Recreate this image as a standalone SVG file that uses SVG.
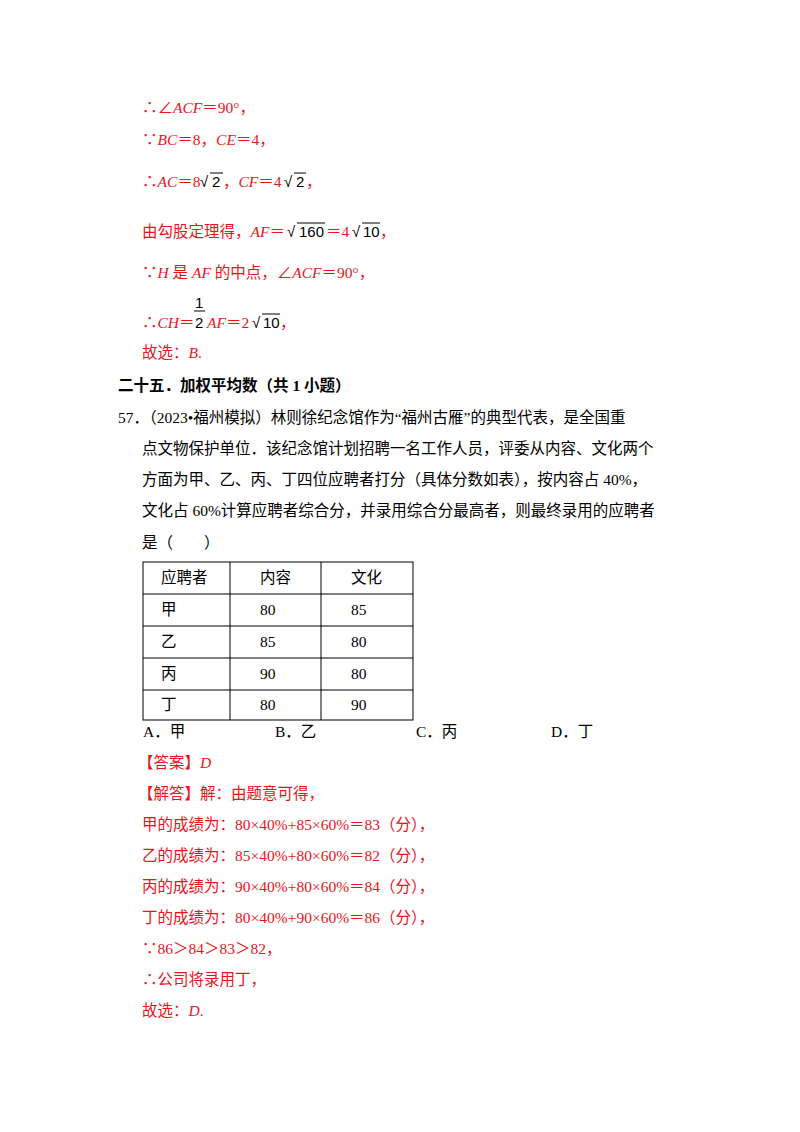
<svg xmlns="http://www.w3.org/2000/svg" width="800" height="1132" viewBox="0 0 800 1132">
<style>
text{font-family:"Liberation Serif","Noto Sans CJK SC",serif;font-size:15.5px;fill:#000}
.r{fill:#e8141b}
.i{font-style:italic}
.b{font-weight:bold}
.k{fill:#000}
.m{font-family:"Liberation Sans","DejaVu Sans",sans-serif;font-size:15px;fill:#000}
line,path{stroke:#000;fill:none}
</style>
<rect width="800" height="1132" fill="#fff"/>
<g id="sol1">
<text class="r" x="142" y="113">∴∠<tspan class="i">ACF</tspan>＝90°，</text>
<text class="r" x="142" y="145">∵<tspan class="i">BC</tspan>＝8，<tspan class="i">CE</tspan>＝4，</text>
<text class="r" x="142" y="187">∴<tspan class="i">AC</tspan>＝8</text>
<text class="m" x="200" y="187">√</text><line x1="210" y1="173" x2="223" y2="173"/><text class="m" x="212" y="187">2</text>
<text class="r" x="223" y="187">，<tspan class="i">CF</tspan>＝4</text>
<text class="m" x="284" y="187">√</text><line x1="294" y1="173" x2="306" y2="173"/><text class="m" x="296" y="187">2</text>
<text class="r" x="306" y="187">，</text>
<text class="r" x="142" y="237">由勾股定理得，<tspan class="i">AF</tspan>＝</text>
<text class="m" x="287" y="237">√</text><line x1="297" y1="223" x2="325" y2="223"/><text class="m" x="299" y="237">160</text>
<text class="r" x="326" y="237">＝4</text>
<text class="m" x="352" y="237">√</text><line x1="362" y1="223" x2="380" y2="223"/><text class="m" x="363" y="237">10</text>
<text class="r" x="380" y="237">，</text>
<text class="r" x="142" y="278">∵<tspan class="i">H</tspan> 是 <tspan class="i">AF</tspan> 的中点，∠<tspan class="i">ACF</tspan>＝90°，</text>
<text class="r" x="142" y="328">∴<tspan class="i">CH</tspan>＝</text>
<text class="m" x="195" y="308">1</text><line x1="194" y1="311" x2="205" y2="311"/><text class="m" x="195" y="328">2</text>
<text class="r" x="207" y="328"><tspan class="i">AF</tspan>＝2</text>
<text class="m" x="252" y="328">√</text><line x1="262" y1="314" x2="280" y2="314"/><text class="m" x="263" y="328">10</text>
<text class="r" x="280" y="328">，</text>
<text class="r" x="142" y="358">故选：<tspan class="i">B</tspan>.</text>
</g>
<g id="heading"><text class="b" x="118" y="391">二十五．加权平均数（共 1 小题）</text></g>
<g id="question">
<text x="118" y="423">57．（2023•福州模拟）林则徐纪念馆作为“福州古雁”的典型代表，是全国重</text>
<text x="142" y="454">点文物保护单位．该纪念馆计划招聘一名工作人员，评委从内容、文化两个</text>
<text x="142" y="485">方面为甲、乙、丙、丁四位应聘者打分（具体分数如表），按内容占 40%，</text>
<text x="142" y="516">文化占 60%计算应聘者综合分，并录用综合分最高者，则最终录用的应聘者</text>
<text x="142" y="548">是（　　）</text>
</g>
<g id="table">
<rect x="143" y="562" width="270" height="158" stroke="#000" fill="none"/>
<line x1="230" y1="562" x2="230" y2="720"/><line x1="321" y1="562" x2="321" y2="720"/>
<line x1="143" y1="594" x2="413" y2="594"/><line x1="143" y1="626" x2="413" y2="626"/>
<line x1="143" y1="658" x2="413" y2="658"/><line x1="143" y1="690" x2="413" y2="690"/>
<text x="161" y="583">应聘者</text><text x="260" y="583">内容</text><text x="351" y="583">文化</text>
<text x="161" y="615">甲</text><text x="260" y="615">80</text><text x="351" y="615">85</text>
<text x="161" y="647">乙</text><text x="260" y="647">85</text><text x="351" y="647">80</text>
<text x="161" y="679">丙</text><text x="260" y="679">90</text><text x="351" y="679">80</text>
<text x="161" y="710">丁</text><text x="260" y="710">80</text><text x="351" y="710">90</text>
</g>
<g id="options">
<text x="143" y="737">A．甲</text><text x="275" y="737">B．乙</text><text x="416" y="737">C．丙</text><text x="551" y="737">D．丁</text>
</g>
<g id="answer">
<text class="r" x="138" y="768">【答案】<tspan class="i">D</tspan></text>
<text class="r" x="138" y="799">【解答】解：由题意可得，</text>
<text class="r" x="142" y="830">甲的成绩为：80×40%+85×60%＝83（分），</text>
<text class="r" x="142" y="861">乙的成绩为：85×40%+80×60%＝82（分），</text>
<text class="r" x="142" y="892">丙的成绩为：90×40%+80×60%＝84（分），</text>
<text class="r" x="142" y="923">丁的成绩为：80×40%+90×60%＝86（分），</text>
<text class="r" x="142" y="954">∵86＞84＞83＞82，</text>
<text class="r" x="142" y="985">∴公司将录用丁，</text>
<text class="r" x="142" y="1016">故选：<tspan class="i">D</tspan>.</text>
</g>
</svg>
